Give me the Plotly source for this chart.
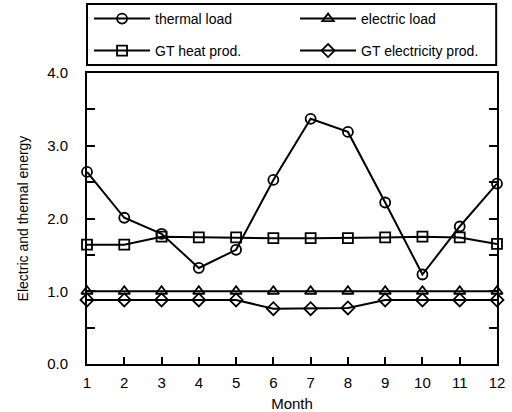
import plotly.graph_objects as go

months = list(range(1, 13))
thermal_load = [2.64, 2.01, 1.79, 1.32, 1.57, 2.53, 3.37, 3.19, 2.22, 1.23, 1.89, 2.48]
electric_load = [1.0, 1.0, 1.0, 1.0, 1.0, 1.0, 1.0, 1.0, 1.0, 1.0, 1.0, 1.0]
gt_heat = [1.64, 1.64, 1.75, 1.74, 1.74, 1.73, 1.73, 1.73, 1.74, 1.75, 1.74, 1.65]
gt_elec = [0.88, 0.88, 0.88, 0.88, 0.88, 0.76, 0.76, 0.77, 0.88, 0.88, 0.88, 0.88]
y_ticks = [0, 1, 2, 3, 4]
y_ticktext = ["0.0", "1.0", "2.0", "3.0", "4.0"]

series = [
    ("thermal load", thermal_load, "circle-open", "legend"),
    ("electric load", electric_load, "triangle-up-open", "legend"),
    ("GT heat prod.", gt_heat, "square-open", "legend2"),
    ("GT electricity prod.", gt_elec, "diamond-open", "legend2"),
]

FAM = "Liberation Sans, Arial, sans-serif"

fig = go.Figure()
for name, vals, sym, leg in series:
    fig.add_trace(go.Scatter(
        x=months, y=vals, name=name, mode="lines+markers", legend=leg,
        line=dict(color="black", width=2),
        marker=dict(symbol=sym, size=10, color="black", line=dict(width=1.8, color="black")),
        cliponaxis=False,
    ))

legend_common = dict(
    orientation="h",
    xanchor="left", yanchor="middle",
    entrywidth=135, entrywidthmode="pixels",
    bgcolor="rgba(0,0,0,0)", borderwidth=0,
    font=dict(family=FAM, size=14, color="black"),
    itemwidth=56,
)

fig.update_layout(
    width=512, height=412,
    margin=dict(l=87, r=15, t=73, b=48, autoexpand=False),
    paper_bgcolor="white", plot_bgcolor="white",
    font=dict(family=FAM, size=14, color="black"),
    showlegend=True,
    legend=dict(x=0.005, y=1.1856, **legend_common),
    legend2=dict(x=0.005, y=1.0756, **legend_common),
    shapes=[dict(type="rect", xref="paper", yref="paper",
                 x0=0, x1=0.998, y0=1.0275, y1=1.2371,
                 line=dict(color="black", width=2))],
    xaxis=dict(
        title=dict(text="Month", font=dict(size=15)),
        range=[1, 12], tickmode="array", tickvals=months,
        ticks="inside", ticklen=7, tickwidth=2, tickcolor="black",
        showline=True, linecolor="black", linewidth=2, mirror=True,
        showgrid=False, zeroline=False, automargin=False,
        ticklabelstandoff=4,
        tickfont=dict(size=15),
    ),
    yaxis=dict(
        title=dict(text="Electric and themal energy", font=dict(size=14)),
        range=[0, 4], tickmode="array", tickvals=y_ticks, ticktext=y_ticktext,
        ticks="inside", ticklen=8, tickwidth=2, tickcolor="black",
        minor=dict(dtick=0.5, ticks="inside", ticklen=8, tickwidth=2, tickcolor="black"),
        showline=True, linecolor="black", linewidth=2, mirror="ticks",
        showgrid=False, zeroline=False, automargin=False,
        ticklabelstandoff=14,
        tickfont=dict(size=15),
    ),
)

# remove the browser's default 8px body margin so the figure fills the window
fig.write_html("out.html", config={"displayModeBar": False},
               post_script="document.body.style.margin='0';")
